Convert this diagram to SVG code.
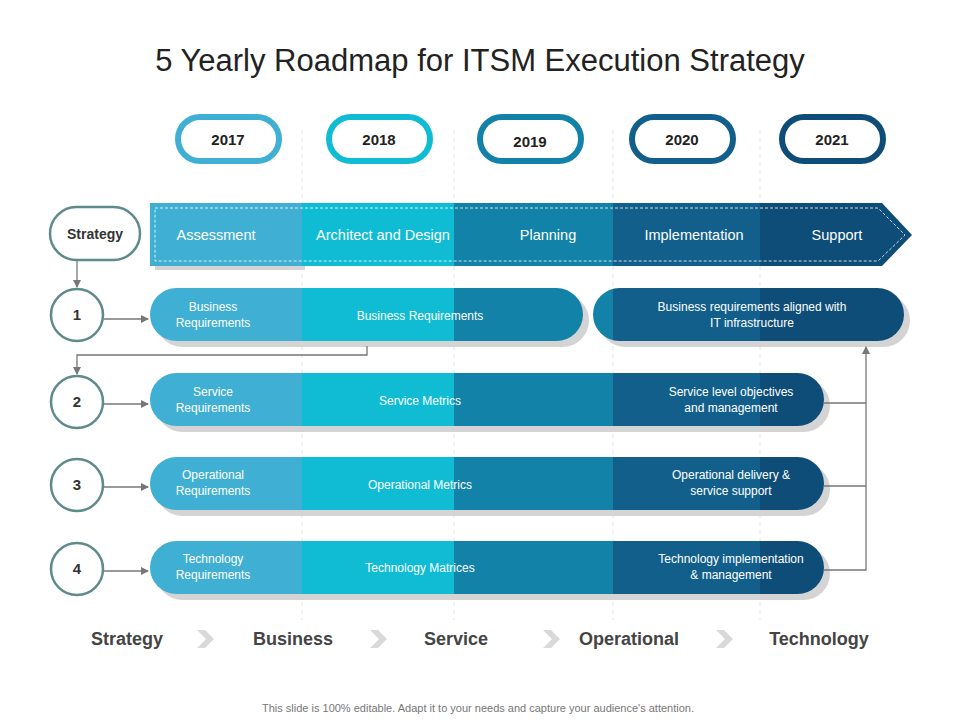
<svg xmlns="http://www.w3.org/2000/svg" width="960" height="720" viewBox="0 0 960 720">
<defs>
<style>
text{font-family:"Liberation Sans",Arial,sans-serif}
.w{fill:#fff;font-size:12px;text-anchor:middle}
.wb{fill:#fff;font-size:14.5px;text-anchor:middle}
.yr{fill:#222;font-size:15px;font-weight:bold;text-anchor:middle}
.yp{fill:#fff;stroke-width:6}
.circ{fill:#fff;stroke:#5f8a8b;stroke-width:2.5}
.num{fill:#333;font-size:15px;font-weight:bold;text-anchor:middle}
.bl{fill:#444;font-size:18px;font-weight:bold;text-anchor:middle}
.cn{fill:none;stroke:#777;stroke-width:1.3}
.sh{fill:#d4d4d4}
.grid{stroke:#e6e6e6;stroke-dasharray:4 4}
</style>
<marker id="ar" markerWidth="8" markerHeight="8" refX="7" refY="4" orient="auto" markerUnits="userSpaceOnUse"><path d="M0,0 L8,4 L0,8z" fill="#777"/></marker>
<clipPath id="r1a"><rect x="150" y="288" width="433" height="53" rx="26.5"/></clipPath>
<clipPath id="r1b"><rect x="593" y="288" width="311" height="53" rx="26.5"/></clipPath>
<clipPath id="r2"><rect x="150" y="373" width="674" height="53" rx="26.5"/></clipPath>
<clipPath id="r3"><rect x="150" y="457" width="674" height="53" rx="26.5"/></clipPath>
<clipPath id="r4"><rect x="150" y="541" width="674" height="53" rx="26.5"/></clipPath>
<g id="cols">
<rect x="0" y="0" width="152" height="720" fill="#3fafd4" transform="translate(150,0)"/>
<rect x="302" y="0" width="152" height="720" fill="#10bcd4"/>
<rect x="454" y="0" width="159" height="720" fill="#1282a8"/>
<rect x="613" y="0" width="147" height="720" fill="#125f8c"/>
<rect x="760" y="0" width="160" height="720" fill="#0e4d78"/>
</g>
</defs>
<rect width="960" height="720" fill="#fff"/>
<text x="480" y="71" font-size="31" fill="#222" text-anchor="middle">5 Yearly Roadmap for ITSM Execution Strategy</text>
<g id="grid">
<line class="grid" x1="302" y1="130" x2="302" y2="620"/>
<line class="grid" x1="454" y1="130" x2="454" y2="620"/>
<line class="grid" x1="613" y1="130" x2="613" y2="620"/>
<line class="grid" x1="760" y1="130" x2="760" y2="620"/>
</g>
<g id="years">
<rect class="yp" x="178" y="117" width="101" height="44" rx="22" stroke="#3fafd4"/><text class="yr" x="228" y="145">2017</text>
<rect class="yp" x="329" y="117" width="101" height="44" rx="22" stroke="#10bcd4"/><text class="yr" x="379" y="145">2018</text>
<rect class="yp" x="480" y="117" width="101" height="44" rx="22" stroke="#1282a8"/><text class="yr" x="530" y="147" font-size="18">2019</text>
<rect class="yp" x="632" y="117" width="101" height="44" rx="22" stroke="#125f8c"/><text class="yr" x="682" y="145">2020</text>
<rect class="yp" x="782" y="117" width="101" height="44" rx="22" stroke="#0e4d78"/><text class="yr" x="832" y="145">2021</text>
</g>
<g id="banner">
<rect x="155" y="208" width="150" height="62" fill="#d4d4d4"/>
<clipPath id="bn"><path d="M150,203 H882 L912,235 L882,266 H150z"/></clipPath>
<g clip-path="url(#bn)"><use href="#cols"/></g>
<path d="M155,208 H878 L905,235 L878,261 H155z" fill="none" stroke="#fff" stroke-width="0.8" stroke-dasharray="3 2"/>
<text class="wb" x="216" y="240">Assessment</text>
<text class="wb" x="383" y="240">Architect and Design</text>
<text class="wb" x="548" y="240">Planning</text>
<text class="wb" x="694" y="240">Implementation</text>
<text class="wb" x="837" y="240">Support</text>
</g>
<g id="strategy"><rect x="50" y="207" width="90" height="53" rx="26.5" fill="#fff" stroke="#5f8a8b" stroke-width="2.5"/><text x="95" y="239" font-size="14" font-weight="bold" fill="#333" text-anchor="middle">Strategy</text></g>
<g id="row1">
<rect class="sh" x="156" y="294" width="433" height="53" rx="26.5"/>
<rect class="sh" x="599" y="294" width="311" height="53" rx="26.5"/>
<g clip-path="url(#r1a)"><use href="#cols"/></g>
<g clip-path="url(#r1b)"><use href="#cols"/></g>
<circle class="circ" cx="77" cy="315" r="26"/><text class="num" x="77" y="320">1</text>
<text class="w" x="213" y="311">Business</text><text class="w" x="213" y="327">Requirements</text>
<text class="w" x="420" y="320">Business Requirements</text>
<text class="w" x="752" y="311">Business requirements  aligned with</text><text class="w" x="752" y="327">IT infrastructure</text>
</g>
<g id="row2">
<rect class="sh" x="156" y="379" width="674" height="53" rx="26.5"/>
<g clip-path="url(#r2)"><use href="#cols"/></g>
<circle class="circ" cx="77" cy="402" r="26"/><text class="num" x="77" y="407">2</text>
<text class="w" x="213" y="396">Service</text><text class="w" x="213" y="412">Requirements</text>
<text class="w" x="420" y="405">Service Metrics</text>
<text class="w" x="731" y="396">Service level objectives</text><text class="w" x="731" y="412">and management</text>
</g>
<g id="row3">
<rect class="sh" x="156" y="463" width="674" height="53" rx="26.5"/>
<g clip-path="url(#r3)"><use href="#cols"/></g>
<circle class="circ" cx="77" cy="485" r="26"/><text class="num" x="77" y="490">3</text>
<text class="w" x="213" y="479">Operational</text><text class="w" x="213" y="495">Requirements</text>
<text class="w" x="420" y="489">Operational  Metrics</text>
<text class="w" x="731" y="479">Operational delivery  &amp;</text><text class="w" x="731" y="495">service support</text>
</g>
<g id="row4">
<rect class="sh" x="156" y="547" width="674" height="53" rx="26.5"/>
<g clip-path="url(#r4)"><use href="#cols"/></g>
<circle class="circ" cx="77" cy="569" r="26"/><text class="num" x="77" y="574">4</text>
<text class="w" x="213" y="563">Technology</text><text class="w" x="213" y="579">Requirements</text>
<text class="w" x="420" y="572">Technology  Matrices</text>
<text class="w" x="731" y="563">Technology  implementation</text><text class="w" x="731" y="579">&amp; management</text>
</g>
<g id="connectors">
<path class="cn" d="M77,261 V287" marker-end="url(#ar)"/>
<path class="cn" d="M104,319 H148" marker-end="url(#ar)"/>
<path class="cn" d="M104,404 H148" marker-end="url(#ar)"/>
<path class="cn" d="M104,487 H148" marker-end="url(#ar)"/>
<path class="cn" d="M104,571 H148" marker-end="url(#ar)"/>
<path class="cn" d="M367,346 V355 H77 V374" marker-end="url(#ar)"/>
<path class="cn" d="M824,403 H866 M824,486 H866 M824,570 H866 V347" marker-end="url(#ar)"/>
</g>
<g id="bottom">
<text class="bl" x="127" y="645">Strategy</text>
<text class="bl" x="293" y="645">Business</text>
<text class="bl" x="456" y="645">Service</text>
<text class="bl" x="629" y="645">Operational</text>
<text class="bl" x="819" y="645">Technology</text>
<path d="M197,630 h8 l9,9 l-9,9 h-8 l9,-9z M370,630 h8 l9,9 l-9,9 h-8 l9,-9z M543,630 h8 l9,9 l-9,9 h-8 l9,-9z M716,630 h8 l9,9 l-9,9 h-8 l9,-9z" fill="#d9d9d9"/>
</g>
<text x="478" y="712" font-size="11" fill="#777" text-anchor="middle">This slide is 100% editable. Adapt it to your needs and capture your audience's attention.</text>
</svg>
